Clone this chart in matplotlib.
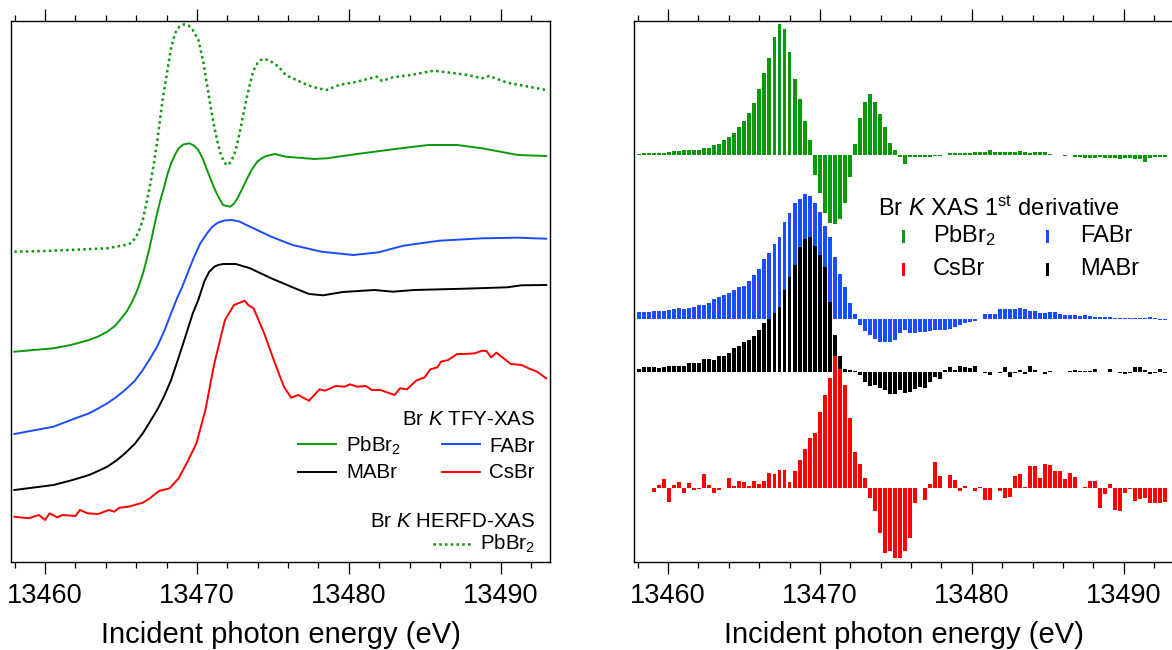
import numpy as np
import matplotlib
matplotlib.use("Agg")
import matplotlib.pyplot as plt
from matplotlib.ticker import MultipleLocator
from matplotlib.lines import Line2D
from matplotlib.patches import Rectangle

# -------------------------
# Fonts (Arial look-alike + mathtext for K, subscripts)
# -------------------------
plt.rcParams['font.family'] = ['Liberation Sans', 'DejaVu Sans']
plt.rcParams['mathtext.fontset'] = 'custom'
plt.rcParams['mathtext.rm'] = 'Liberation Sans'
plt.rcParams['mathtext.it'] = 'Liberation Sans:italic'

GREEN = "#0b990b"
BLUE = "#1a4dff"
RED = "#ff0000"
BLACK = "#000000"

# -------------------------
# Left panel: Br K-edge XAS spectra (relative to each pre-edge level)
# -------------------------
herfd_pbbr2_e = [13457.98, 13460.0, 13462.0, 13464.1, 13465.27, 13465.7, 13466.0, 13466.2,
                 13466.44, 13466.65, 13466.9, 13467.15, 13467.4, 13467.74, 13468.1, 13468.3,
                 13468.56, 13468.85, 13469.15, 13469.45, 13469.73, 13470.1, 13470.44, 13470.65,
                 13470.9, 13471.15, 13471.38, 13471.55, 13471.73, 13471.9, 13472.09, 13472.3,
                 13472.56, 13472.8, 13473.03, 13473.25, 13473.5, 13473.7, 13473.85, 13474.0,
                 13474.2, 13474.5, 13474.9, 13475.38, 13475.85, 13476.55, 13477.26, 13477.96,
                 13478.55, 13479.37, 13480.55, 13481.84, 13482.2, 13482.9, 13484.08, 13485.6,
                 13486.67, 13487.84, 13488.78, 13489.25, 13490.43, 13491.6, 13493.0]
herfd_pbbr2 = [0.0, 0.007, 0.02, 0.034, 0.067, 0.087, 0.15, 0.217,
               0.317, 0.467, 0.65, 0.867, 1.117, 1.517, 1.85, 2.037,
               2.184, 2.252, 2.274, 2.262, 2.217, 2.117, 1.884, 1.687,
               1.45, 1.247, 1.084, 0.987, 0.917, 0.877, 0.867, 0.917,
               1.017, 1.177, 1.35, 1.517, 1.684, 1.797, 1.85, 1.887,
               1.917, 1.927, 1.9, 1.85, 1.767, 1.717, 1.667, 1.634,
               1.617, 1.667, 1.7, 1.75, 1.707, 1.744, 1.767, 1.81,
               1.79, 1.767, 1.734, 1.757, 1.69, 1.657, 1.617]

tfy_pbbr2_e = [13457.98, 13460.56, 13461.7, 13462.9, 13463.5, 13464.1, 13464.6, 13465.03,
               13465.4, 13465.74, 13466.0, 13466.2, 13466.44, 13466.67, 13466.9, 13467.15,
               13467.38, 13467.6, 13467.85, 13468.05, 13468.3, 13468.55, 13468.8, 13469.1,
               13469.5, 13469.8, 13470.09, 13470.4, 13470.67, 13470.9, 13471.15, 13471.45,
               13471.73, 13471.95, 13472.2, 13472.45, 13472.67, 13472.95, 13473.26, 13473.6,
               13473.97, 13474.25, 13474.55, 13475.14, 13475.85, 13477.73, 13478.55, 13480.55,
               13482.9, 13485.25, 13487.13, 13488.78, 13491.13, 13493.0]
tfy_pbbr2 = [0.0, 0.034, 0.067, 0.117, 0.152, 0.2, 0.257, 0.334,
             0.407, 0.5, 0.587, 0.667, 0.777, 0.907, 1.05, 1.227,
             1.384, 1.517, 1.65, 1.767, 1.884, 1.967, 2.034, 2.072,
             2.084, 2.062, 2.017, 1.927, 1.817, 1.727, 1.634, 1.537,
             1.467, 1.457, 1.45, 1.482, 1.534, 1.617, 1.717, 1.817,
             1.9, 1.932, 1.957, 1.977, 1.95, 1.927, 1.934, 1.977,
             2.024, 2.067, 2.067, 2.034, 1.967, 1.957]

tfy_fabr_e = [13457.98, 13460.56, 13461.7, 13462.9, 13463.5, 13464.1, 13464.7, 13465.27,
              13465.9, 13466.44, 13466.9, 13467.38, 13467.85, 13468.3, 13468.7, 13469.03,
              13469.73, 13470.2, 13470.67, 13471.0, 13471.38, 13471.8, 13472.3, 13472.8,
              13473.26, 13474.9, 13476.3, 13478.2, 13480.3, 13481.96, 13483.6, 13485.96,
              13488.78, 13491.13, 13493.0]
tfy_fabr = [0.0, 0.073, 0.14, 0.207, 0.255, 0.307, 0.37, 0.44,
            0.53, 0.64, 0.75, 0.873, 1.03, 1.207, 1.36, 1.47,
            1.74, 1.9, 2.007, 2.07, 2.113, 2.135, 2.14, 2.125,
            2.09, 1.973, 1.89, 1.823, 1.79, 1.817, 1.883, 1.933,
            1.957, 1.963, 1.953]

tfy_mabr_e = [13457.98, 13460.56, 13461.7, 13462.9, 13463.5, 13464.1, 13464.7, 13465.27,
              13465.9, 13466.44, 13466.9, 13467.38, 13467.85, 13468.3, 13468.7, 13469.03,
              13469.73, 13470.09, 13470.5, 13470.8, 13471.15, 13471.4, 13471.73, 13472.56,
              13473.5, 13474.9, 13476.3, 13477.38, 13478.32, 13479.6, 13481.7, 13482.9,
              13484.3, 13487.6, 13490.43, 13491.36, 13493.0]
tfy_mabr = [0.0, 0.05, 0.095, 0.15, 0.19, 0.233, 0.295, 0.367,
            0.46, 0.567, 0.68, 0.8, 0.94, 1.1, 1.28, 1.433,
            1.767, 1.9, 2.09, 2.18, 2.233, 2.25, 2.26, 2.26,
            2.217, 2.117, 2.027, 1.96, 1.947, 1.98, 2.0, 1.983,
            2.0, 2.013, 2.027, 2.047, 2.05]

tfy_csbr_e = [13457.98, 13458.9, 13459.6, 13460.0, 13460.3, 13460.8, 13461.15, 13462.0,
              13462.3, 13462.8, 13463.5, 13464.2, 13464.55, 13464.9, 13465.5, 13466.44,
              13466.9, 13467.5, 13468.2, 13468.8, 13469.38, 13469.97, 13470.56, 13471.15,
              13471.85, 13472.44, 13473.15, 13473.38, 13473.73, 13474.43, 13475.14, 13475.73,
              13476.2, 13476.67, 13477.38, 13478.08, 13478.43, 13479.14, 13479.73, 13480.08,
              13480.55, 13481.14, 13481.5, 13482.08, 13483.02, 13483.37, 13483.84, 13484.43,
              13485.0, 13485.37, 13485.84, 13486.07, 13486.55, 13487.13, 13487.6, 13488.3,
              13488.78, 13489.06, 13489.37, 13489.72, 13490.2, 13490.67, 13491.37, 13491.84,
              13492.4, 13493.0]
tfy_csbr = [0.0, -0.016, 0.017, -0.033, 0.034, -0.006, 0.017, 0.007,
            0.067, 0.034, 0.027, 0.067, 0.05, 0.09, 0.1, 0.14,
            0.184, 0.257, 0.284, 0.384, 0.55, 0.734, 1.067, 1.534,
            1.967, 2.117, 2.16, 2.117, 2.084, 1.834, 1.534, 1.3,
            1.19, 1.217, 1.16, 1.274, 1.26, 1.307, 1.3, 1.324,
            1.3, 1.307, 1.267, 1.267, 1.217, 1.284, 1.274, 1.36,
            1.394, 1.474, 1.494, 1.55, 1.567, 1.627, 1.627, 1.634,
            1.66, 1.657, 1.594, 1.64, 1.584, 1.527, 1.517, 1.484,
            1.45, 1.384]

# vertical stacking of the spectra (arb. units)
left_offsets = {"herfd_pbbr2": 3.103, "pbbr2": 2.103, "fabr": 1.28, "mabr": 0.72, "csbr": 0.453}

# -------------------------
# Right panel: first derivative, one bar per energy step
# -------------------------
bar_energy = np.round(13458.1 + 0.33 * np.arange(106), 2)

deriv_pbbr2 = [1.0, 2.3, 2.3, 2.0, 2.3, 2.7, 3.0, 4.0, 4.7, 5.0,
               5.0, 5.0, 5.3, 7.0, 7.3, 10.5, 11.3, 15.3, 18.0, 22.0,
               28.7, 34.7, 42.0, 52.7, 66.3, 82.7, 97.7, 118.7, 131.0, 126.3,
               103.7, 76.3, 56.0, 34.7, 15.3, -19.7, -38.0, -58.0, -67.3, -69.0,
               -64.0, -48.0, -21.3, 11.3, 37.0, 53.7, 61.0, 53.7, 41.3, 28.7,
               12.0, 5.3, -1.3, -9.0, -2.0, -1.7, -2.0, -1.3, -1.7, -1.0,
               -0.3, 0.5, 2.0, 2.7, 2.3, 2.7, 2.3, 3.0, 3.3, 3.7,
               5.3, 3.7, 3.0, 3.3, 3.0, 3.3, 4.7, 3.0, 2.7, 3.3,
               3.7, 3.3, 1.0, 0.3, 0.3, -0.3, 0.3, -1.3, -2.0, -2.3,
               -2.3, -2.3, -2.0, -2.3, -2.7, -3.0, -3.3, -3.0, -3.0, -3.3,
               -4.0, -6.7, -3.0, -2.0, -2.0, -1.7]

deriv_fabr = [6.5, 7.0, 7.0, 7.3, 7.3, 8.0, 9.0, 10.0, 10.4, 10.0,
              10.4, 12.0, 13.7, 13.7, 16.0, 19.4, 22.0, 23.7, 25.4, 29.0,
              31.4, 33.0, 38.0, 44.0, 50.0, 60.0, 66.0, 75.0, 82.0, 97.0,
              106.0, 116.0, 120.0, 125.0, 123.0, 116.0, 107.0, 93.0, 82.0, 62.0,
              45.0, 32.0, 16.0, 5.0, -6.0, -12.0, -16.3, -20.0, -23.0, -23.0,
              -23.0, -21.4, -14.6, -11.3, -14.6, -14.0, -13.0, -13.0, -12.0, -11.3,
              -11.3, -11.0, -10.0, -8.0, -6.3, -4.0, -3.0, -2.0, -0.7, 4.3,
              4.3, 4.3, 9.3, 9.3, 9.3, 9.3, 10.3, 9.3, 8.0, 8.0,
              6.0, 5.3, 7.0, 7.0, 4.7, 3.3, 3.3, 3.3, 3.0, 3.3,
              3.0, 2.0, 2.0, 1.7, 1.7, 1.0, 0.7, 1.0, 0.7, 1.0,
              0.7, 1.0, 1.3, 0.7, -1.3, -1.3]

deriv_mabr = [3.0, 5.7, 5.7, 5.0, 4.0, 5.7, 6.7, 6.7, 6.7, 6.7,
              9.0, 9.0, 9.0, 13.0, 13.0, 12.3, 16.3, 16.3, 19.0, 24.0,
              26.3, 30.0, 32.3, 36.3, 42.3, 49.7, 53.0, 59.0, 65.0, 82.3,
              95.6, 107.3, 125.0, 133.0, 135.0, 126.3, 117.3, 105.6, 70.6, 37.3,
              16.3, 3.0, 2.3, 1.7, -2.7, -9.3, -13.3, -12.7, -16.0, -17.7,
              -21.7, -21.7, -17.7, -20.3, -19.3, -17.0, -15.0, -16.0, -9.3, -4.3,
              -7.0, 2.3, 5.0, 2.3, 6.3, 5.7, 4.0, 6.3, 0.7, -1.0,
              -2.7, 0.0, -0.7, 5.0, -4.3, -1.0, 2.3, -2.0, 6.3, 2.3,
              0.0, -2.0, 1.7, 0.0, 0.3, 0.7, 1.0, 2.3, 1.7, 1.7,
              1.7, 3.0, 0.0, 0.3, 3.0, 0.0, -1.0, -1.7, -0.3, 5.7,
              5.0, 2.3, -1.7, -1.0, 3.0, -1.0]

deriv_csbr = [0.0, 0.3, 0.3, -4.0, 3.3, 9.3, -13.3, 3.3, 6.0, -5.0,
              5.0, -1.7, -0.7, 14.3, 3.3, -4.3, -1.7, 0.0, 10.0, 2.3,
              7.3, 6.0, 2.7, 7.3, 4.0, 7.7, 15.7, 14.3, 18.3, 18.3,
              6.0, 17.7, 28.3, 39.0, 50.0, 55.0, 76.7, 93.3, 110.7, 132.3,
              119.0, 103.3, 70.0, 36.0, 24.3, 10.7, -10.0, -22.3, -44.3, -65.0,
              -62.3, -69.3, -69.3, -62.3, -50.0, -14.3, 0.0, -11.7, 4.3, 26.7,
              12.3, 0.7, 13.3, 8.3, -2.7, 2.7, 0.0, -2.3, 1.7, -11.7,
              -11.7, 0.0, -2.3, -10.0, -9.0, 12.3, 14.0, 1.7, 22.3, 22.3,
              10.0, 24.3, 23.3, 17.3, 17.7, 9.0, 15.0, 11.0, 0.0, 1.0,
              7.3, 7.3, -19.3, -6.0, 4.3, -21.7, -22.3, -5.0, -1.0, -12.3,
              -11.0, -10.0, -15.0, -15.0, -15.0, -14.0]

# zero line of each bar series and bar scale (arb. units)
right_offsets = {"pbbr2": 4.067, "fabr": 2.433, "mabr": 1.897, "csbr": 0.737}
DERIV_SCALE = 0.01

# -------------------------
# Figure layout (pixel boxes of the original)
# -------------------------
W, H = 1172, 650
fig = plt.figure(figsize=(W / 100, H / 100), dpi=100)


def box(x0, y0, x1, y1):
    return [x0 / W, 1 - y1 / H, (x1 - x0) / W, (y1 - y0) / H]


def fx(x):
    return x / W


def fy(y):
    return 1 - y / H


ax1 = fig.add_axes(box(11, 21, 550, 562))
ax2 = fig.add_axes(box(634, 21, 1173, 562))

# -------------------------
# Left panel curves
# -------------------------
ax1.plot(herfd_pbbr2_e, np.array(herfd_pbbr2) + left_offsets["herfd_pbbr2"],
         color=GREEN, lw=1.8, ls=(0, (1, 1.3)))
ax1.plot(tfy_pbbr2_e, np.array(tfy_pbbr2) + left_offsets["pbbr2"], color=GREEN, lw=1.4)
ax1.plot(tfy_fabr_e, np.array(tfy_fabr) + left_offsets["fabr"], color=BLUE, lw=1.4)
ax1.plot(tfy_mabr_e, np.array(tfy_mabr) + left_offsets["mabr"], color=BLACK, lw=1.4)
ax1.plot(tfy_csbr_e, np.array(tfy_csbr) + left_offsets["csbr"], color=RED, lw=1.4)

# -------------------------
# Right panel bars (black and red drawn on top)
# -------------------------
for vals, key, col in [(deriv_pbbr2, "pbbr2", GREEN), (deriv_fabr, "fabr", BLUE),
                       (deriv_mabr, "mabr", BLACK), (deriv_csbr, "csbr", RED)]:
    ax2.bar(bar_energy, np.array(vals) * DERIV_SCALE, bottom=right_offsets[key],
            width=0.26, color=col, linewidth=0)

# -------------------------
# Axes styling
# -------------------------
for ax in (ax1, ax2):
    ax.set_xlim(13457.76, 13493.25)
    ax.set_ylim(0, 5.41)
    ax.xaxis.set_major_locator(MultipleLocator(10))
    ax.xaxis.set_minor_locator(MultipleLocator(2))
    ax.tick_params(axis='x', which='both', direction='out', top=True, bottom=True,
                   labeltop=False, width=0.9, labelsize=19.5, pad=6.5)
    ax.tick_params(axis='x', which='major', length=8.6)
    ax.tick_params(axis='x', which='minor', length=4.3)
    ax.set_yticks([])
    for sp in ax.spines.values():
        sp.set_linewidth(1.0)
    ax.set_xlabel("Incident photon energy (eV)", fontsize=21, labelpad=9)

# -------------------------
# Hand-placed legends
# -------------------------
LEG_FS = 14.8
LEG_FS_R = 17

fig.text(fx(535), fy(425), r"Br $\mathit{K}$ TFY-XAS", ha='right', va='baseline', fontsize=LEG_FS)
for (x0, x1, y), col in [((298, 336, 444), GREEN), ((442, 480, 444), BLUE),
                         ((298, 336, 472), BLACK), ((442, 480, 472), RED)]:
    fig.add_artist(Line2D([fx(x0), fx(x1)], [fy(y), fy(y)], color=col, lw=1.4,
                          transform=fig.transFigure))
fig.text(fx(346), fy(451.7), r"PbBr$_2$", ha='left', va='baseline', fontsize=LEG_FS)
fig.text(fx(535), fy(451.7), "FABr", ha='right', va='baseline', fontsize=LEG_FS)
fig.text(fx(346), fy(477.7), "MABr", ha='left', va='baseline', fontsize=LEG_FS)
fig.text(fx(535), fy(477.7), "CsBr", ha='right', va='baseline', fontsize=LEG_FS)

fig.text(fx(535), fy(526.7), r"Br $\mathit{K}$ HERFD-XAS", ha='right', va='baseline', fontsize=LEG_FS)
fig.add_artist(Line2D([fx(433), fx(471)], [fy(544.3), fy(544.3)], color=GREEN, lw=1.8,
                      ls=(0, (1, 1.3)), transform=fig.transFigure))
fig.text(fx(535), fy(550), r"PbBr$_2$", ha='right', va='baseline', fontsize=LEG_FS)

fig.text(fx(878), fy(216), r"Br $\mathit{K}$ XAS 1$^{\mathrm{st}}$ derivative", ha='left',
         va='baseline', fontsize=LEG_FS_R)
for (x, y), col in [((903, 230), GREEN), ((1047, 230), BLUE),
                    ((903, 263), RED), ((1047, 263), BLACK)]:
    fig.add_artist(Rectangle((fx(x - 1.5), fy(y + 12.5)), 3 / W, 12.5 / H, color=col,
                             transform=fig.transFigure, linewidth=0))
fig.text(fx(933), fy(242), r"PbBr$_2$", ha='left', va='baseline', fontsize=LEG_FS_R)
fig.text(fx(1080), fy(242), "FABr", ha='left', va='baseline', fontsize=LEG_FS_R)
fig.text(fx(933), fy(275), "CsBr", ha='left', va='baseline', fontsize=LEG_FS_R)
fig.text(fx(1080), fy(275), "MABr", ha='left', va='baseline', fontsize=LEG_FS_R)

fig.savefig("out.png", dpi=100)
